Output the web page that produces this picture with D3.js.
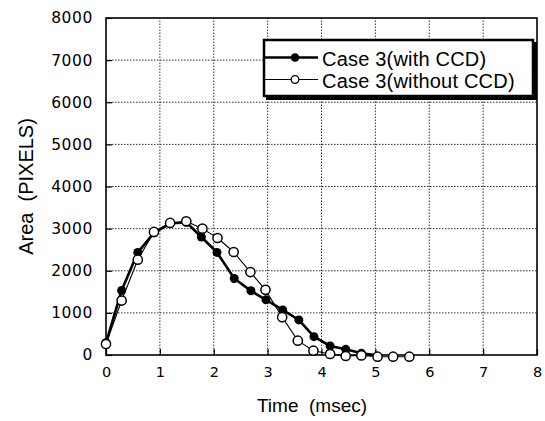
<!DOCTYPE html>
<html>
<head>
<meta charset="utf-8">
<script src="https://cdn.jsdelivr.net/npm/d3@7"></script>
<style>
  body { margin: 0; background: #fff; }
  svg { display: block; font-family: "Liberation Sans", Arial, sans-serif; }
  text { white-space: pre; }
</style>
</head>
<body>
<div id="chart"></div>
<script>
// values
const timeWith = [0, 0.29, 0.59, 0.89, 1.19, 1.49, 1.77, 2.06, 2.38, 2.69, 2.97, 3.28, 3.58, 3.86, 4.16, 4.45, 4.74, 5.0];
const areaWith = [290, 1530, 2435, 2900, 3120, 3150, 2800, 2435, 1817, 1524, 1310, 1071, 833, 436, 214, 135, 40, 0];

const timeWithout = [0, 0.29, 0.59, 0.89, 1.19, 1.49, 1.79, 2.07, 2.37, 2.68, 2.96, 3.27, 3.56, 3.85, 4.16, 4.45, 4.74, 5.04, 5.33, 5.63];
const areaWithout = [260, 1293, 2262, 2921, 3135, 3175, 3000, 2778, 2445, 1969, 1548, 898, 340, 102, 24, -24, -10, -40, -40, -40];

const xTicks = [0, 1, 2, 3, 4, 5, 6, 7, 8];
const yTicks = [0, 1000, 2000, 3000, 4000, 5000, 6000, 7000, 8000];
const seriesNames = ["Case 3(with CCD)", "Case 3(without CCD)"];

const width = 545, height = 421;
const margin = { top: 18, right: 8, bottom: 66, left: 106 };
const tickFont = "DejaVu Sans, Liberation Sans, sans-serif"; // wide digits like the scan

const svg = d3.select("#chart").append("svg")
    .attr("width", width)
    .attr("height", height);

const x = d3.scaleLinear().domain([0, 8]).range([margin.left, width - margin.right]);
const y = d3.scaleLinear().domain([0, 8000]).range([height - margin.bottom, margin.top]);

// grid
const grid = svg.append("g")
    .attr("stroke", "#333")
    .attr("stroke-width", 1)
    .attr("stroke-dasharray", "1.5,1.5");
grid.selectAll("line.gx")
    .data(xTicks.slice(1, -1))
    .join("line")
    .attr("x1", d => x(d)).attr("x2", d => x(d))
    .attr("y1", y(0)).attr("y2", y(8000));
grid.selectAll("line.gy")
    .data(yTicks.slice(1, -1))
    .join("line")
    .attr("class", "gy")
    .attr("x1", x(0)).attr("x2", x(8))
    .attr("y1", d => y(d)).attr("y2", d => y(d));

// axes with inward ticks
svg.append("g")
    .attr("transform", `translate(0,${y(0)})`)
    .call(d3.axisBottom(x).tickValues(xTicks).tickSize(-6).tickPadding(12).tickFormat(d3.format("d")))
    .call(g => g.select(".domain").remove())
    .call(g => g.selectAll("line").attr("stroke", "#000").attr("stroke-width", 1.2))
    .call(g => g.selectAll("text").attr("font-size", 14.5).attr("fill", "#000")
        .attr("font-family", tickFont));

svg.append("g")
    .attr("transform", `translate(${x(0)},0)`)
    .call(d3.axisLeft(y).tickValues(yTicks).tickSize(-6).tickPadding(13).tickFormat(d3.format("d")))
    .call(g => g.select(".domain").remove())
    .call(g => g.selectAll("line").attr("stroke", "#000").attr("stroke-width", 1.2))
    .call(g => g.selectAll("text").attr("font-size", 15.5).attr("fill", "#000")
        .attr("font-family", tickFont)
        .attr("letter-spacing", 0.6));

// frame
svg.append("rect")
    .attr("x", x(0)).attr("y", y(8000))
    .attr("width", x(8) - x(0)).attr("height", y(0) - y(8000))
    .attr("fill", "none")
    .attr("stroke", "#000")
    .attr("stroke-width", 1.6);

// axis titles
svg.append("text")
    .attr("x", 312).attr("y", 412)
    .attr("text-anchor", "middle")
    .attr("font-size", 19)
    .text("Time  (msec)");

svg.append("text")
    .attr("transform", `translate(33,${(y(0) + y(8000)) / 2}) rotate(-90)`)
    .attr("text-anchor", "middle")
    .attr("font-size", 20)
    .text("Area  (PIXELS)");

const line = d3.line().x(d => x(d[0])).y(d => y(d[1]));

const dataWithout = d3.zip(timeWithout, areaWithout);
const dataWith = d3.zip(timeWith, areaWith);

// without CCD: thin line, open circles
svg.append("path")
    .datum(dataWithout)
    .attr("d", line)
    .attr("fill", "none")
    .attr("stroke", "#000")
    .attr("stroke-width", 1.1);

// with CCD: thick line, filled circles
svg.append("path")
    .datum(dataWith)
    .attr("d", line)
    .attr("fill", "none")
    .attr("stroke", "#000")
    .attr("stroke-width", 2.6);

svg.append("g").selectAll("circle")
    .data(dataWith.slice(0, -1))
    .join("circle")
    .attr("cx", d => x(d[0])).attr("cy", d => y(d[1]))
    .attr("r", 4.5)
    .attr("fill", "#000");

svg.append("g").selectAll("circle")
    .data(dataWithout)
    .join("circle")
    .attr("cx", d => x(d[0])).attr("cy", d => y(d[1]))
    .attr("r", 4.6)
    .attr("fill", "#fff")
    .attr("stroke", "#000")
    .attr("stroke-width", 1.5);

// legend
const lg = svg.append("g").attr("transform", "translate(264,40)");
lg.append("rect")
    .attr("x", 2).attr("y", 2)
    .attr("width", 271).attr("height", 58)
    .attr("fill", "#000");
lg.append("rect")
    .attr("width", 269).attr("height", 56)
    .attr("fill", "#fff")
    .attr("stroke", "#000")
    .attr("stroke-width", 2.5);

seriesNames.forEach((name, i) => {
    const cy = 17.5 + i * 22;
    lg.append("line")
        .attr("x1", 1).attr("x2", 54)
        .attr("y1", cy).attr("y2", cy)
        .attr("stroke", "#000")
        .attr("stroke-width", i === 0 ? 2.6 : 1.1);
    lg.append("circle")
        .attr("cx", 31).attr("cy", cy)
        .attr("r", i === 0 ? 4.3 : 3.8)
        .attr("fill", i === 0 ? "#000" : "#fff")
        .attr("stroke", "#000")
        .attr("stroke-width", i === 0 ? 0 : 1.3);
    lg.append("text")
        .attr("x", 58).attr("y", cy + 8.5)
        .attr("font-size", 20)
        .attr("letter-spacing", 0.2)
        .text(name);
});
</script>
</body>
</html>
